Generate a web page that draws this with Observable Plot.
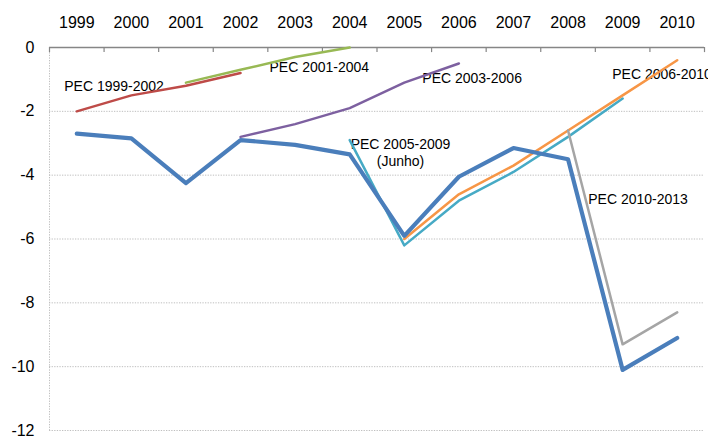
<!DOCTYPE html>
<html><head><meta charset="utf-8">
<script src="https://cdn.jsdelivr.net/npm/d3@7"></script>
<script src="https://cdn.jsdelivr.net/npm/@observablehq/plot@0.6"></script>
<style>body{margin:0;background:#fff}</style>
</head><body><div id="chart"></div>
<script>
const years = [1999,2000,2001,2002,2003,2004,2005,2006,2007,2008,2009,2010];
const yTicks = [0,-2,-4,-6,-8,-10,-12];

// Actual balance (thick blue)
const actual = [-2.7,-2.85,-4.25,-2.9,-3.05,-3.35,-5.9,-4.05,-3.15,-3.5,-10.1,-9.1];

// Stability programme (PEC) targets
const pec9902Years = [1999,2000,2001,2002];
const pec9902 = [-2.0,-1.5,-1.2,-0.8];
const pec0104Years = [2001,2002,2003,2004];
const pec0104 = [-1.1,-0.7,-0.3,0.0];
const pec0306Years = [2002,2003,2004,2005,2006];
const pec0306 = [-2.8,-2.4,-1.9,-1.1,-0.5];
const pec0509Years = [2004,2005,2006,2007,2008,2009];
const pec0509 = [-2.9,-6.2,-4.8,-3.9,-2.8,-1.6];
const pec0610Years = [2005,2006,2007,2008,2009,2010];
const pec0610 = [-6.0,-4.6,-3.7,-2.6,-1.5,-0.4];
const pec1013Years = [2008,2009,2010];
const pec1013 = [-2.6,-9.3,-8.3];

const labelTexts = ["PEC 1999-2002","PEC 2001-2004","PEC 2003-2006","PEC 2006-2010","PEC 2010-2013"];
const labelX = [1998.77,2002.53,2005.33,2008.81,2008.37];
const labelY = [-1.21,-0.64,-0.96,-0.86,-4.75];
const junhoText = "PEC 2005-2009\n(Junho)";
const junhoX = 2004.93, junhoY = -3.28;

const toRows = (xs, vs) => xs.map((x,i)=>({x, v: vs[i]}));
const series = [
  {rows: toRows(pec9902Years, pec9902), color:"#be4b48"},
  {rows: toRows(pec0104Years, pec0104), color:"#98b954"},
  {rows: toRows(pec0306Years, pec0306), color:"#7d60a0"},
  {rows: toRows(pec0509Years, pec0509), color:"#46aac5"},
  {rows: toRows(pec0610Years, pec0610), color:"#f79646"},
  {rows: toRows(pec1013Years, pec1013), color:"#a5a5a5"}
];
const boundaries = d3.range(years.length+1).map(i => years[0]-0.5+i);
const labels = labelTexts.map((t,i)=>({t, x: labelX[i], y: labelY[i]}));

const chart = Plot.plot({
  width: 708, height: 436,
  marginLeft: 49, marginRight: 4, marginTop: 47, marginBottom: 6,
  style: {fontFamily: "'Liberation Sans', Arial, sans-serif", fontSize: "16px", background: "#fff", color: "#000"},
  x: {type: "linear", domain: [boundaries[0], boundaries[boundaries.length-1]]},
  y: {domain: [-12, 0]},
  marks: [
    Plot.ruleY(yTicks.filter(d=>d<0), {stroke:"#bfbfbf", strokeWidth:1, strokeDasharray:"1.3,1.3"}),
    Plot.ruleX([boundaries[0]], {stroke:"#bfbfbf", strokeWidth:1, strokeDasharray:"1.3,1.3"}),
    Plot.axisX({anchor:"top", ticks: years, tickSize: 0, tickPadding: 20, tickFormat: d => String(d), fontSize: 16, label: null}),
    Plot.axisY({anchor:"left", ticks: yTicks, tickSize: 0, tickPadding: 15, tickFormat: d => String(d), fontSize: 16, label: null}),
    Plot.ruleY([0], {stroke:"#868686", strokeWidth:1.5}),
    Plot.ruleX(boundaries, {y1: 0, y2: -0.16, stroke:"#868686", strokeWidth:1.2}),
    Plot.text(labels, {x:"x", y:"y", text:"t", textAnchor:"start", fontSize:14, fill:"#000", style:"letter-spacing:-0.45px"}),
    Plot.text([junhoText], {x: () => junhoX, y: () => junhoY, text: d => d, textAnchor:"middle", fontSize:14, lineHeight:1.2, fill:"#000", style:"letter-spacing:-0.3px"}),
    ...series.map(s => Plot.line(s.rows, {x:"x", y:"v", stroke:s.color, strokeWidth:2.5})),
    Plot.line(years.map((y,i)=>({x:y, v:actual[i]})), {x:"x", y:"v", stroke:"#4a7ebb", strokeWidth:4.2})
  ]
});
document.getElementById("chart").appendChild(chart);
</script>
</body></html>
